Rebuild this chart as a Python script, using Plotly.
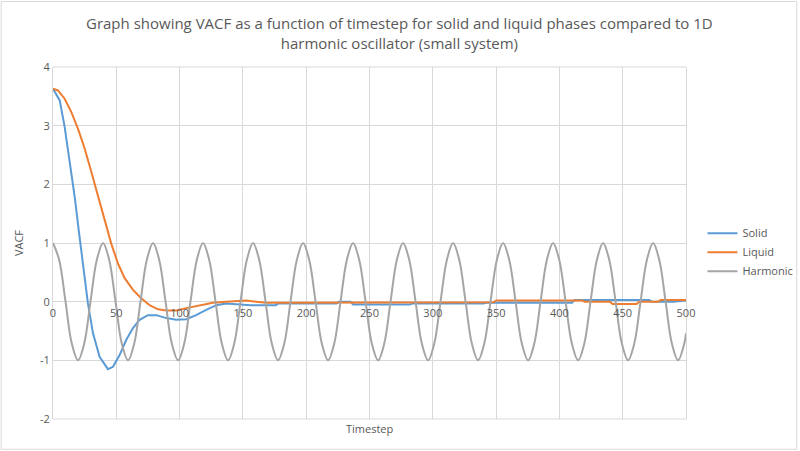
import plotly.graph_objects as go

# ---- data ----
solid_t = [0, 5.3, 9.2, 13.2, 17.1, 21, 25, 27.6, 31.6, 36.8, 43.4, 47.4, 52.6, 57.9, 63.2,
           68.4, 75, 81.6, 89.5, 97.4, 105.3, 113, 121, 129, 136.8, 147, 156, 176, 178, 224,
           226, 235, 237, 282, 284, 340, 342, 410, 412, 471, 473, 490, 500]
solid_v = [3.63, 3.43, 2.98, 2.41, 1.79, 1.10, 0.43, -0.03, -0.54, -0.94, -1.15, -1.11, -0.91,
           -0.65, -0.45, -0.31, -0.23, -0.23, -0.28, -0.31, -0.30, -0.23, -0.14, -0.06, -0.03,
           -0.04, -0.06, -0.06, -0.03, -0.03, 0.0, 0.0, -0.05, -0.05, -0.03, -0.03, -0.02,
           -0.02, 0.03, 0.03, 0.0, 0.0, 0.02]

liquid_t = [0, 3.9, 9.2, 14.5, 19.7, 25, 30.3, 35.5, 40.8, 46, 51.3, 56.6, 63.2, 69.7, 76.3,
            82.9, 89.5, 97.4, 105.3, 115.8, 126.3, 136.8, 152.6, 168, 187, 240, 300, 348, 350,
            418, 420, 440, 442, 461, 463, 478, 480, 500]
liquid_v = [3.63, 3.60, 3.46, 3.23, 2.95, 2.61, 2.21, 1.79, 1.39, 0.99, 0.65, 0.40, 0.20, 0.06,
            -0.06, -0.13, -0.15, -0.15, -0.11, -0.06, -0.02, 0.0, 0.02, -0.02, -0.02, -0.01,
            -0.01, -0.01, 0.02, 0.02, 0.0, 0.0, -0.04, -0.04, 0.0, 0.0, 0.03, 0.03]

harm_t = [0, 4.9, 9.9, 14.8, 19.8, 24.7, 29.6, 34.6, 39.5, 44.4, 49.4, 54.3, 59.3, 64.2, 69.1,
          74.1, 79.0, 83.9, 88.9, 93.8, 98.8, 103.7, 108.6, 113.6, 118.5, 123.4, 128.4, 133.3,
          138.3, 143.2, 148.1, 153.1, 158.0, 162.9, 167.9, 172.8, 177.8, 182.7, 187.6, 192.6,
          197.5, 202.4, 207.4, 212.3, 217.3, 222.2, 227.1, 232.1, 237.0, 241.9, 246.9, 251.8,
          256.8, 261.7, 266.6, 271.6, 276.5, 281.4, 286.4, 291.3, 296.3, 301.2, 306.1, 311.1,
          316.0, 320.9, 325.9, 330.8, 335.8, 340.7, 345.6, 350.6, 355.5, 360.4, 365.4, 370.3,
          375.3, 380.2, 385.1, 390.1, 395.0, 399.9, 404.9, 409.8, 414.8, 419.7, 424.6, 429.6,
          434.5, 439.4, 444.4, 449.3, 454.3, 459.2, 464.1, 469.1, 474.0, 478.9, 483.9, 488.8,
          493.8, 498.7, 500]
harm_v = [1, 0.71, 0, -0.71, -1, -0.71, 0, 0.71,
          1, 0.71, 0, -0.71, -1, -0.71, 0, 0.71,
          1, 0.71, 0, -0.71, -1, -0.71, 0, 0.71,
          1, 0.71, 0, -0.71, -1, -0.71, 0, 0.71,
          1, 0.71, 0, -0.71, -1, -0.71, 0, 0.71,
          1, 0.71, 0, -0.71, -1, -0.71, 0, 0.71,
          1, 0.71, 0, -0.71, -1, -0.71, 0, 0.71,
          1, 0.71, 0, -0.71, -1, -0.71, 0, 0.71,
          1, 0.71, 0, -0.71, -1, -0.71, 0, 0.71,
          1, 0.71, 0, -0.71, -1, -0.71, 0, 0.71,
          1, 0.71, 0, -0.71, -1, -0.71, 0, 0.71,
          1, 0.71, 0, -0.71, -1, -0.71, 0, 0.71,
          1, 0.71, 0, -0.71, -1, -0.71, -0.54]

x_ticks = [0, 50, 100, 150, 200, 250, 300, 350, 400, 450, 500]
y_ticks = [-2, -1, 0, 1, 2, 3, 4]

TXT = "#595959"
GRID = "#d9d9d9"
FONT = "Open Sans"

fig = go.Figure()
fig.add_trace(go.Scatter(x=solid_t, y=solid_v, mode="lines", name="Solid",
                         line=dict(color="#5B9BD5", width=2)))
fig.add_trace(go.Scatter(x=liquid_t, y=liquid_v, mode="lines", name="Liquid",
                         line=dict(color="#ED7D31", width=2)))
fig.add_trace(go.Scatter(x=harm_t, y=harm_v, mode="lines", name="Harmonic",
                         line=dict(color="#A5A5A5", width=2, shape="spline", smoothing=1)))

fig.update_layout(
    width=800, height=451,
    margin=dict(l=53, r=114, t=67, b=32, autoexpand=False),
    paper_bgcolor="white", plot_bgcolor="white",
    font=dict(family=FONT, color=TXT, size=11),
    legend=dict(x=1.026, xanchor="left", y=0.474, yanchor="middle",
                font=dict(family=FONT, size=11, color=TXT), bgcolor="rgba(0,0,0,0)",
                tracegroupgap=0),
    showlegend=True,
    xaxis=dict(range=[0, 500], tickvals=x_ticks, ticktext=[str(v) for v in x_ticks],
               showgrid=True, gridcolor=GRID, gridwidth=1, zeroline=False,
               anchor="free", position=1/3, showline=False, ticks="",
               ticklabelstandoff=3,
               tickfont=dict(family=FONT, size=11, color=TXT)),
    yaxis=dict(range=[-2, 4], tickvals=y_ticks, ticktext=[str(v) for v in y_ticks],
               showgrid=True, gridcolor=GRID, gridwidth=1, zeroline=True,
               zerolinecolor=GRID, zerolinewidth=1, ticks="",
               showline=True, mirror=True, linecolor=GRID, linewidth=1,
               title=dict(text="VACF", font=dict(family=FONT, size=11, color=TXT), standoff=14),
               tickfont=dict(family=FONT, size=11, color=TXT)),
    annotations=[dict(text="Graph showing VACF as a function of timestep for solid and liquid phases compared to 1D<br>harmonic oscillator (small system)",
                      xref="paper", yref="paper", x=0.548, y=1.097,
                      xanchor="center", yanchor="middle", showarrow=False, align="center",
                      font=dict(family=FONT, size=15, color=TXT)),
                 dict(text="Timestep", xref="paper", yref="paper", x=0.5, y=-0.027,
                      xanchor="center", yanchor="middle", showarrow=False,
                      font=dict(family=FONT, size=11, color=TXT))],
    shapes=[dict(type="rect", xref="paper", yref="paper",
                 x0=-0.082, x1=1.175, y0=-0.086, y1=1.186,
                 line=dict(color=GRID, width=1), layer="below"),
            dict(type="line", xref="paper", yref="paper", x0=0, x1=1, y0=1, y1=1,
                 line=dict(color=GRID, width=1), layer="below"),
            dict(type="line", xref="paper", yref="paper", x0=0, x1=1, y0=0, y1=0,
                 line=dict(color=GRID, width=1), layer="below")],
)

fig.write_html("out.html")
